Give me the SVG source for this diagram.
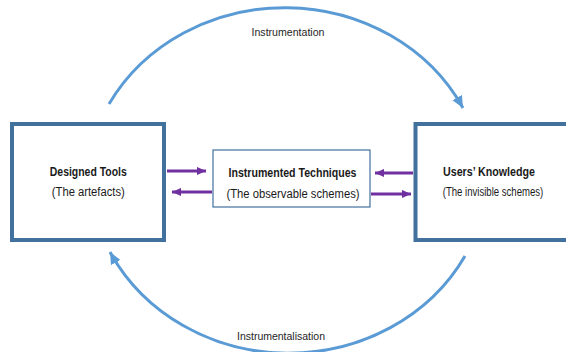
<svg xmlns="http://www.w3.org/2000/svg" width="566" height="352" viewBox="0 0 566 352">
  <style>
    .box { fill: #ffffff; stroke: #41719C; stroke-width: 4; }
    .mid { fill: #ffffff; stroke: #41719C; stroke-width: 1.2; }
    .t { font-family: "Liberation Sans", Arial, sans-serif; font-size: 12px; fill: #1a1a1a; text-anchor: middle; }
    .b { font-weight: bold; }
    .lbl { font-family: "Liberation Sans", Arial, sans-serif; font-size: 11.5px; fill: #262626; text-anchor: middle; }
    .arc { fill: none; stroke: #5B9BD5; stroke-width: 3; }
    .pa { fill: none; stroke: #7030A0; stroke-width: 3; }
  </style>
  <defs>
    <marker id="bh" markerUnits="userSpaceOnUse" markerWidth="12" markerHeight="12" viewBox="0 0 10 10" refX="10" refY="5" orient="auto">
      <path d="M0,0.5 L10,5 L0,9.5 Z" fill="#5B9BD5"/>
    </marker>
    <marker id="ph" markerUnits="userSpaceOnUse" markerWidth="9" markerHeight="9" viewBox="0 0 10 10" refX="10" refY="5" orient="auto">
      <path d="M0,0.5 L10,5 L0,9.5 Z" fill="#7030A0"/>
    </marker>
  </defs>

  <g id="connectors">
    <path class="arc" d="M109,104 A200,184 0 0 1 463,108" marker-end="url(#bh)"/>
    <path class="arc" d="M465,256 A200,184 0 0 1 110,252" marker-end="url(#bh)"/>
    <line class="pa" x1="167" y1="171" x2="206" y2="171" marker-end="url(#ph)"/>
    <line class="pa" x1="212" y1="192" x2="172" y2="192" marker-end="url(#ph)"/>
    <line class="pa" x1="413" y1="173" x2="375" y2="173" marker-end="url(#ph)"/>
    <line class="pa" x1="371" y1="194" x2="411" y2="194" marker-end="url(#ph)"/>
    <text class="lbl" x="288" y="36" textLength="73" lengthAdjust="spacingAndGlyphs">Instrumentation</text>
    <text class="lbl" x="281" y="340" textLength="88" lengthAdjust="spacingAndGlyphs">Instrumentalisation</text>
  </g>

  <g id="designed-tools">
    <rect class="box" x="12" y="124" width="152" height="116"/>
    <text class="t b" x="88.3" y="175.7" textLength="77" lengthAdjust="spacingAndGlyphs">Designed Tools</text>
    <text class="t" x="88.3" y="195.5" textLength="73" lengthAdjust="spacingAndGlyphs">(The artefacts)</text>
  </g>

  <g id="instrumented-techniques">
    <rect class="mid" x="213" y="150" width="157" height="57"/>
    <text class="t b" x="292.5" y="177.3" textLength="128" lengthAdjust="spacingAndGlyphs">Instrumented Techniques</text>
    <text class="t" x="293" y="197.5" textLength="133" lengthAdjust="spacingAndGlyphs">(The observable schemes)</text>
  </g>

  <g id="users-knowledge">
    <rect class="box" x="415.5" y="124" width="200" height="116"/>
    <text class="t b" x="489" y="175.7" textLength="92" lengthAdjust="spacingAndGlyphs">Users’ Knowledge</text>
    <text class="t" x="493" y="195.5" textLength="100.6" lengthAdjust="spacingAndGlyphs">(The invisible schemes)</text>
  </g>
</svg>
